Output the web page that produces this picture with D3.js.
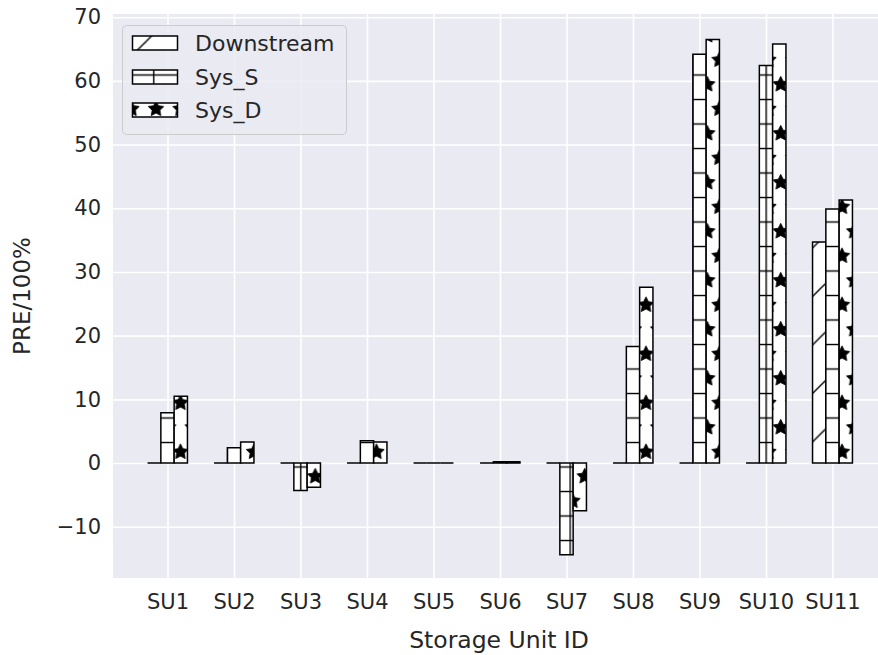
<!DOCTYPE html>
<html><head><meta charset="utf-8">
<script src="https://cdn.jsdelivr.net/npm/d3@7/dist/d3.min.js"></script>
<style>
body{margin:0;background:#fff}
svg{display:block}
text{font-family:"DejaVu Sans",sans-serif;fill:#262626}
</style>
</head><body>
<svg id="chart" width="878" height="655"></svg>
<script>
const categories = ["SU1","SU2","SU3","SU4","SU5","SU6","SU7","SU8","SU9","SU10","SU11"];
const seriesNames = ["Downstream","Sys_S","Sys_D"];
const downstream = [0,0,0,0,0,0,0,0,0,0,34.7];
const sysS = [7.9,2.4,-4.3,3.5,0,0.2,-14.4,18.3,64.2,62.4,39.9];
const sysD = [10.5,3.3,-3.8,3.3,0,0.2,-7.5,27.6,66.5,65.8,41.3];
const yTicks = [-10,0,10,20,30,40,50,60,70];
const xLabel = "Storage Unit ID";
const yLabel = "PRE/100%";

const seriesValues = [downstream, sysS, sysD];
const hatchIds = ["hDiag","hPlus","hStar"];

const W = 878, H = 655;
const plot = {left:113, right:885, top:14, bottom:578};
const svg = d3.select("#chart");

// scales
const step = 66.5, firstCenter = 167.5;
const x0 = d3.scaleBand().domain(categories)
  .range([firstCenter - 0.5*step, firstCenter + 10.5*step])
  .paddingInner(0.4).paddingOuter(0.2);
const x1 = d3.scaleBand().domain(seriesNames).range([0, x0.bandwidth()]);
const y = d3.scaleLinear().domain([-18.05, 70.5]).range([plot.bottom, plot.top]);

// patterns
const defs = svg.append("defs");
const hw = 1.4;
// diagonal
{
  const P = 48.5;
  const p = defs.append("pattern").attr("id","hDiag").attr("patternUnits","userSpaceOnUse")
    .attr("width",P).attr("height",P);
  p.append("rect").attr("width",P).attr("height",P).attr("fill","#fff");
  [42-P, 42, 42+P].forEach(c=>{
    p.append("line").attr("x1",-10).attr("y1",c+10).attr("x2",P+10).attr("y2",c-P-10)
      .attr("stroke","#000").attr("stroke-width",hw);
  });
}
// plus
{
  const P = 24.5;
  const p = defs.append("pattern").attr("id","hPlus").attr("patternUnits","userSpaceOnUse")
    .attr("width",P).attr("height",P);
  p.append("rect").attr("width",P).attr("height",P).attr("fill","#fff");
  p.append("line").attr("x1",6.7).attr("x2",6.7).attr("y1",-1).attr("y2",P+1).attr("stroke","#000").attr("stroke-width",hw);
  p.append("line").attr("y1",1.5).attr("y2",1.5).attr("x1",-1).attr("x2",P+1).attr("stroke","#000").attr("stroke-width",hw);
}
// stars
{
  const P = 24.5;
  const p = defs.append("pattern").attr("id","hStar").attr("patternUnits","userSpaceOnUse")
    .attr("width",P).attr("height",2*P);
  p.append("rect").attr("width",P).attr("height",2*P).attr("fill","#fff");
  const R = P/3;
  const starPts = d3.range(10).map(i=>{
    const a = -Math.PI/2 + i*Math.PI/5, r = i%2===0 ? R : R*0.5;
    return [r*Math.cos(a), r*Math.sin(a)];
  });
  const starPath = "M" + starPts.map(d=>d.join(",")).join("L") + "Z";
  const centers = [[9,11],[21.25,35.5]];
  centers.forEach(([cx,cy])=>{
    [-P,0,P].forEach(dx=>[-2*P,0,2*P].forEach(dy=>{
      p.append("path").attr("d",starPath).attr("transform",`translate(${cx+dx},${cy+dy})`)
        .attr("fill","#000").attr("stroke","#000").attr("stroke-width",0.8);
    }));
  });
}

// background
svg.append("rect").attr("x",plot.left).attr("y",plot.top)
  .attr("width",plot.right-plot.left).attr("height",plot.bottom-plot.top).attr("fill","#EAEAF2");

// y grid + labels
const yAxis = d3.axisLeft(y).tickValues(yTicks).tickSize(-(plot.right-plot.left)).tickPadding(12)
  .tickFormat(d=> d<0 ? "\u2212"+Math.abs(d) : String(d));
const gy = svg.append("g").attr("transform",`translate(${plot.left},0)`).call(yAxis);
gy.select(".domain").remove();
gy.selectAll("line").attr("stroke","#fff").attr("stroke-width",1.6);
gy.selectAll("text").attr("font-size",21).attr("fill","#262626").style("font-family","DejaVu Sans");

// x grid + labels
const xAxis = d3.axisBottom(d3.scalePoint().domain(categories)
    .range([x0(categories[0])+x0.bandwidth()/2, x0(categories[categories.length-1])+x0.bandwidth()/2]))
  .tickSize(-(plot.bottom-plot.top)).tickPadding(16);
const gx = svg.append("g").attr("transform",`translate(0,${plot.bottom})`).call(xAxis);
gx.select(".domain").remove();
gx.selectAll("line").attr("stroke","#fff").attr("stroke-width",1.6);
gx.selectAll("text").attr("font-size",21).attr("fill","#262626").style("font-family","DejaVu Sans");

// bars
seriesNames.forEach((s, si)=>{
  svg.append("g").selectAll("path").data(categories).join("path")
    .attr("d",(c,i)=>{
      const v = seriesValues[si][i];
      const xa = x0(c) + x1(s), xb = xa + x1.bandwidth();
      const ya = y(0), yb = y(v);
      return `M${xa},${ya}H${xb}V${yb}H${xa}Z`;
    })
    .attr("fill",`url(#${hatchIds[si]})`)
    .attr("stroke","#000").attr("stroke-width",1.5).attr("stroke-linejoin","miter");
});

// axis titles
svg.append("text").attr("x",(plot.left+plot.right)/2).attr("y",648)
  .attr("text-anchor","middle").attr("font-size",23.5).text(xLabel);
svg.append("text").attr("transform",`translate(30,${(plot.top+plot.bottom)/2}) rotate(-90)`)
  .attr("text-anchor","middle").attr("font-size",23).text(yLabel);

// legend
const lg = svg.append("g");
lg.append("rect").attr("x",122.5).attr("y",25.5).attr("width",224).attr("height",109).attr("rx",4)
  .attr("fill","#EAEAF2").attr("fill-opacity",0.8).attr("stroke","#cccccc").attr("stroke-width",1);
const rowY = [43, 77, 110];
seriesNames.forEach((s,i)=>{
  lg.append("rect").attr("x",132.5).attr("y",rowY[i]-7).attr("width",45).attr("height",14)
    .attr("fill",`url(#${hatchIds[i]})`).attr("stroke","#000").attr("stroke-width",1.5);
  lg.append("text").attr("x",195).attr("y",rowY[i]).attr("dy","0.35em").attr("font-size",22).text(s);
});
</script>
</body></html>
